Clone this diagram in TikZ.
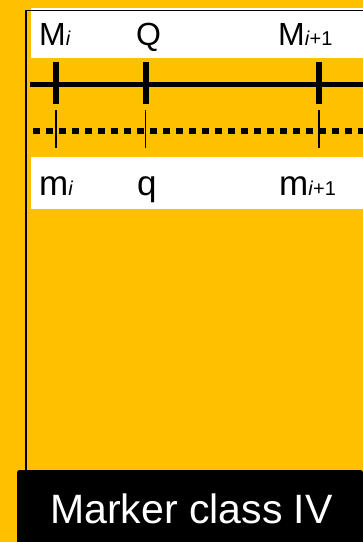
\documentclass[tikz,border=0pt]{standalone}
\usepackage{fontspec}
\setmainfont{Liberation Sans}
\usetikzlibrary{positioning}
\definecolor{markerorange}{RGB}{255,192,0}
\newcommand{\subidx}[1]{{\fontsize{20}{22}\selectfont #1}}

\begin{document}
\begin{tikzpicture}[x=1pt, y=-1pt,
    bigmark/.style={inner sep=0pt, anchor=base west, font=\fontsize{32}{34}\selectfont},
    smallmark/.style={inner sep=0pt, anchor=base west, font=\fontsize{35}{37}\selectfont},
    thicktick/.style={line width=6pt},
    thintick/.style={line width=1.5pt}]
    \useasboundingbox (0,0) rectangle (363,542);
    \fill[markerorange] (0,0) rectangle (363,542);

    % label bands
    \fill[white] (31,8) rectangle (363,58);
    \fill[white] (31,157) rectangle (363,209);
    \draw[line width=1.5pt] (26,470) -- (26,10.5) -- (363,10.5);

    % upper map (solid) and lower map (dotted)
    \coordinate (solidL) at (30,84);
    \coordinate (solidR) at (363,84);
    \coordinate (dotL) at (33,131);
    \coordinate (dotR) at (363,131);
    \draw[line width=5pt] (solidL) -- (solidR);
    \draw[line width=6.5pt, dash pattern=on 7pt off 6pt] (dotL) -- (dotR);

    \foreach \name/\x in {mi/56, q/145.5, mj/319} {
        \draw[thicktick] (\x,62) -- (\x,104);
        \draw[thintick] (\x,110) -- (\x,148);
    }

    % marker names
    \node[bigmark] (Mi) at (39,45) {M\subidx{\textit{i}}};
    \node[bigmark] (Q) at (136,45) {Q};
    \node[bigmark] (Mj) at (278,45) {M\subidx{\textit{i}+1}};
    \node[smallmark] (mi) at (39,195) {m\subidx{\textit{i}}};
    \node[smallmark] (q) at (137,195) {q};
    \node[smallmark] (mj) at (279,195) {m\subidx{\textit{i}+1}};

    % caption
    \fill[black] (363,542) -- (17,542) [rounded corners=2.5pt] -- (17,470) -- (363,470) [sharp corners] -- cycle;
    \node[text=white, inner sep=0pt, anchor=base, font=\fontsize{41}{43}\selectfont] (caption) at (191.5,523) {Marker class IV};
\end{tikzpicture}
\end{document}
